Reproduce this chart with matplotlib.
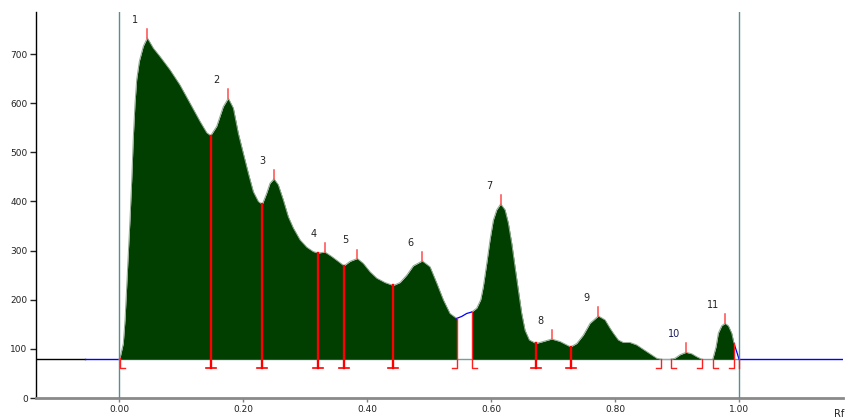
import matplotlib
matplotlib.use('Agg')
import matplotlib.pyplot as plt
import numpy as np

# densitometry profile
rf = [0.0000, 0.0016, 0.0069, 0.0097, 0.0124, 0.0150, 0.0177, 0.0205, 0.0231, 0.0258, 0.0285, 0.0327, 0.0392, 0.0456,
      0.0553, 0.0661, 0.0822, 0.0983, 0.1145, 0.1306, 0.1414, 0.1478,
      0.1575, 0.1681, 0.1762, 0.1843, 0.1923, 0.2004, 0.2084, 0.2165, 0.2246, 0.2310,
      0.2381, 0.2434, 0.2499, 0.2568, 0.2649, 0.2729, 0.2810, 0.2918, 0.3026, 0.3132, 0.3213,
      0.3321, 0.3429, 0.3535, 0.3627,
      0.3724, 0.3842, 0.3938, 0.4046, 0.4154, 0.4288, 0.4422,
      0.4530, 0.4638, 0.4744, 0.4890, 0.5014, 0.5122, 0.5228, 0.5336, 0.5444,
      0.5525, 0.5605, 0.5686,
      0.5767, 0.5831, 0.5873, 0.5928, 0.5981, 0.6034, 0.6089, 0.6153,
      0.6223, 0.6276, 0.6331, 0.6384, 0.6437, 0.6492, 0.6545, 0.6615, 0.6723,
      0.6840, 0.6976, 0.7110, 0.7218, 0.7282,
      0.7379, 0.7485, 0.7593, 0.7727,
      0.7835, 0.7916, 0.7969, 0.8050, 0.8130, 0.8238, 0.8346, 0.8452, 0.8560, 0.8668, 0.8733,
      0.8899, 0.8963, 0.9044, 0.9141, 0.9233, 0.9313, 0.9394,
      0.9571, 0.9624, 0.9661, 0.9716, 0.9769, 0.9823, 0.9877, 0.9914, 0.9958, 0.9995]
density = [79, 81, 111, 159, 227, 295, 363, 444, 532, 600, 648, 685, 716, 733,
           712, 695, 668, 637, 600, 563, 540, 534,
           553, 593, 610, 590, 539, 498, 458, 420, 400, 394,
           417, 437, 446, 434, 403, 369, 346, 322, 307, 298, 295,
           297, 288, 278, 269,
           278, 284, 274, 257, 244, 235, 229,
           235, 250, 269, 279, 267, 234, 200, 172, 162,
           166, 172, 175,
           183, 200, 227, 274, 322, 362, 383, 395,
           383, 356, 315, 267, 220, 172, 138, 118, 111,
           115, 120, 115, 108, 104,
           111, 128, 152, 167,
           159, 142, 132, 118, 113, 113, 108, 99, 90, 81, 79,
           79, 81, 88, 93, 90, 84, 79,
           79, 104, 132, 147, 152, 147, 132, 111, 94, 79]
baseline = 79

peak_rf = [0.0456, 0.1762, 0.2499, 0.3321, 0.3842, 0.4890, 0.6153, 0.6976, 0.7727, 0.9141, 0.9769]
peak_names = ['1', '2', '3', '4', '5', '6', '7', '8', '9', '10', '11']

# integration limits: T = shared, L = start of a zone, R = end of a zone, I = plain
bound_rf = [0.0016, 0.1478, 0.2310, 0.3213, 0.3627, 0.4422, 0.5444, 0.5686, 0.6723, 0.7282,
            0.8733, 0.8899, 0.9394, 0.9571, 0.9914, 0.9995]
bound_kind = ['L', 'T', 'T', 'T', 'T', 'T', 'R', 'L', 'T', 'T', 'R', 'L', 'R', 'L', 'R', 'I']

zones = [(0.0, 0.5444), (0.5686, 0.8733), (0.8899, 0.9394), (0.9571, 0.9914)]
gaps = [(0.5444, 0.5686), (0.9914, 0.9995)]

rf = np.array(rf)
density = np.array(density)

fig = plt.figure(figsize=(8.47, 4.2), dpi=100)
ax = fig.add_axes([36/847, 22/420, 807/847, 386/420])

xmin, xmax = -0.1338, 1.1671
ax.set_xlim(xmin, xmax)
ax.set_ylim(0, 785.5)

# baseline
ax.plot([xmin, -0.055], [baseline, baseline], color='black', lw=1, zorder=1)
ax.plot([-0.055, 0], [baseline, baseline], color='#0000ff', lw=1, zorder=1)
ax.plot([0, 1.0], [baseline, baseline], color='#7a9c9c', lw=1, zorder=1)
ax.plot([0.9995, xmax], [baseline, baseline], color='#0000ff', lw=1, zorder=3)

for a, b in zones:
    m = (rf >= a) & (rf <= b)
    ax.fill_between(rf[m], baseline, density[m], color='#003f00', lw=0, zorder=2)
    ax.plot(rf[m], density[m], color='#8fa98f', lw=0.7, zorder=2.5)

m = (rf >= 0.8733) & (rf <= 0.8899)
ax.plot(rf[m], density[m], color='#9aaaaa', lw=0.8, zorder=2.5)
for a, b in gaps:
    m = (rf >= a) & (rf <= b)
    ax.plot(rf[m], density[m], color='#0000ff', lw=0.9, zorder=3)

# start / end lines
ax.axvline(0.0, color='#5c8c8c', lw=1, zorder=4)
ax.axvline(1.0, color='#5c8c8c', lw=1, zorder=4)

bottom = 61
serif = 0.008
for x, kind in zip(bound_rf, bound_kind):
    top = np.interp(x, rf, density)
    if kind == 'T':
        ax.plot([x, x], [bottom, top], color='#ff0000', lw=1.7, zorder=5)
        ax.plot([x - serif, x + serif], [bottom, bottom], color='#ff0000', lw=1.2, zorder=5)
    elif kind == 'L':
        ax.plot([x + serif, x, x], [bottom, bottom, top], color='#ff2020', lw=1.0, zorder=5)
    elif kind == 'R':
        ax.plot([x - serif, x, x], [bottom, bottom, top], color='#ff2020', lw=1.0, zorder=5)
    else:
        ax.plot([x, x], [bottom, top], color='#ff2020', lw=1.0, zorder=5)

for x, name in zip(peak_rf, peak_names):
    h = np.interp(x, rf, density)
    ax.plot([x, x], [h, h + 18], color='#ff4a4a', lw=1.1, zorder=5)
    ax.text(x - 0.019, h + 37, name, ha='center', va='center', fontsize=7,
            color='#1a1a5a' if name == '10' else '#222222')

ax.set_yticks(range(0, 800, 100))
ax.set_xticks([0.0, 0.2, 0.4, 0.6, 0.8, 1.0])
ax.set_xticklabels(['%.2f' % v for v in [0.0, 0.2, 0.4, 0.6, 0.8, 1.0]])
ax.tick_params(axis='y', labelsize=6.5, length=4, width=1, colors='#222222', pad=2)
ax.tick_params(axis='x', labelsize=6.5, length=3, width=1, color='#808080', labelcolor='#222222', pad=2)

ax.spines['top'].set_visible(False)
ax.spines['right'].set_visible(False)
ax.spines['left'].set_color('black')
ax.spines['left'].set_linewidth(1)
ax.spines['bottom'].set_color('#8a8a8a')
ax.spines['bottom'].set_linewidth(2)

fig.text(839/847, 1 - 409/420, 'Rf', ha='center', va='top', fontsize=7, color='#222222')

fig.savefig('out.png', dpi=100)
